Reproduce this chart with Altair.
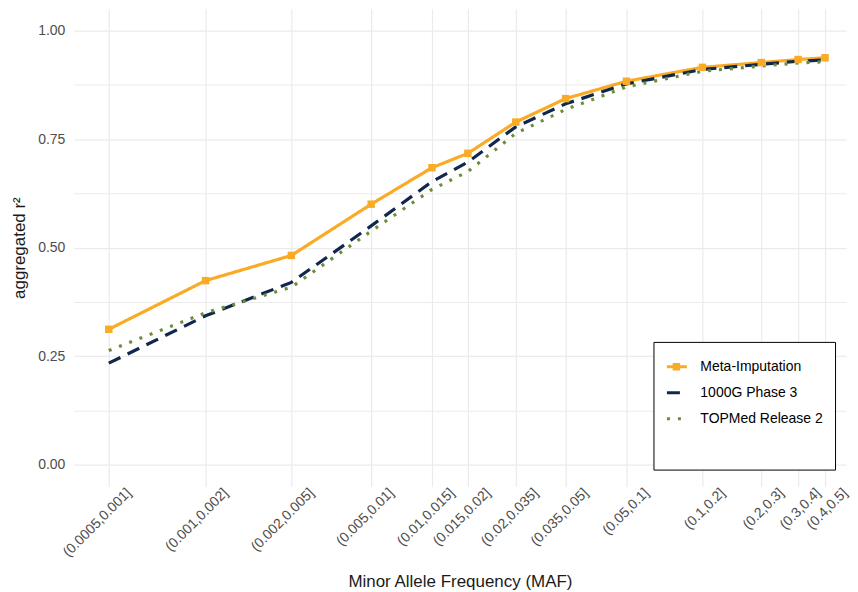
import altair as alt
import pandas as pd

# ---- data ----
maf_bins = ["(0.0005,0.001]", "(0.001,0.002]", "(0.002,0.005]", "(0.005,0.01]",
            "(0.01,0.015]", "(0.015,0.02]", "(0.02,0.035]", "(0.035,0.05]",
            "(0.05,0.1]", "(0.1,0.2]", "(0.2,0.3]", "(0.3,0.4]", "(0.4,0.5]"]
maf_upper = [0.001, 0.002, 0.005, 0.01, 0.015, 0.02, 0.035, 0.05, 0.1, 0.2, 0.3, 0.4, 0.5]
# mean MAF of variants in each bin (x position, log scale)
maf_mean = [0.000604, 0.001476, 0.00326, 0.00681, 0.01194, 0.01663, 0.02588,
            0.0410, 0.0719, 0.1449, 0.2495, 0.3507, 0.4498]

meta = [0.312, 0.424, 0.482, 0.600, 0.684, 0.717, 0.789, 0.843, 0.883, 0.915, 0.926, 0.933, 0.937]
g1000 = [0.234, 0.343, 0.420, 0.550, 0.652, 0.697, 0.778, 0.831, 0.877, 0.910, 0.922, 0.929, 0.932]
topmed = [0.263, 0.350, 0.409, 0.538, 0.634, 0.675, 0.763, 0.818, 0.870, 0.906, 0.918, 0.925, 0.928]

series_names = ["Meta-Imputation", "1000G Phase 3", "TOPMed Release 2"]
series_colors = ["#FAAB26", "#10284B", "#6B8E3D"]
series_dashes = [[1, 0], [13, 8], [3, 8]]

rows = []
for name, vals in zip(series_names, [meta, g1000, topmed]):
    for b, m, v in zip(maf_bins, maf_mean, vals):
        rows.append({"series": name, "bin": b, "maf": m, "r2": v})
df = pd.DataFrame(rows)

# x labels: map each tick value to its bin label
label_expr = "'" + maf_bins[-1] + "'"
for up, b in reversed(list(zip(maf_upper[:-1], maf_bins[:-1]))):
    label_expr = f"datum.value <= {up} ? '{b}' : ({label_expr})"

FONT = "Liberation Sans"

x_enc = alt.X(
    "maf:Q",
    scale=alt.Scale(type="log", domain=[4.375e-4, 0.5458], nice=False),
    axis=alt.Axis(values=maf_mean, labelExpr=label_expr, title="Minor Allele Frequency (MAF)",
                  labelAngle=-45, labelAlign="right", labelBaseline="middle",
                  labelOffset=20, labelPadding=4, ticks=False, tickSize=0, domain=False,
                  grid=True, titlePadding=14, labelOverlap=False, labelBound=False),
)
y_enc = alt.Y(
    "r2:Q",
    scale=alt.Scale(domain=[-0.05, 1.05], nice=False, zero=False),
    axis=alt.Axis(values=[i / 8 for i in range(9)],
                  labelExpr="(datum.value * 4) % 1 === 0 ? format(datum.value, '.2f') : ''",
                  title="aggregated r²", ticks=False, tickSize=0, domain=False,
                  labelPadding=9, titlePadding=9),
)

legend = alt.Legend(
    title=" ", titleOrient="bottom", titleFontSize=14, titlePadding=12,
    orient="none", legendX=581, legendY=334, direction="vertical",
    strokeColor="black", fillColor="white", padding=12,
    symbolType="stroke", symbolSize=400, symbolStrokeWidth=3,
    labelFontSize=14, labelColor="black", labelOffset=12, labelFont=FONT,
    clipHeight=26, rowPadding=0,
)

lines = alt.Chart(df).mark_line(strokeWidth=3.2).encode(
    x=x_enc,
    y=y_enc,
    color=alt.Color("series:N", scale=alt.Scale(domain=series_names, range=series_colors), legend=legend),
    strokeDash=alt.StrokeDash("series:N", scale=alt.Scale(domain=series_names, range=series_dashes), legend=legend),
    detail="series:N",
)

points = alt.Chart(df).transform_filter(
    alt.datum.series == series_names[0]
).mark_point(filled=True, opacity=1, size=56, color=series_colors[0]).encode(
    x=x_enc,
    y=y_enc,
    shape=alt.Shape("series:N", scale=alt.Scale(range=["square"]),
                    legend=alt.Legend(title=None, orient="none", legendX=599, legendY=350,
                                      labelExpr="''", padding=0, symbolSize=56,
                                      symbolFillColor=series_colors[0], symbolStrokeWidth=0,
                                      clipHeight=18)),
)

chart = alt.layer(lines, points).properties(
    width=774, height=479,
    padding={"left": 2, "top": 0, "right": 0, "bottom": 0},
).configure_view(strokeWidth=0).configure_axis(
    labelFont=FONT, titleFont=FONT, labelFontSize=14, labelColor="#4D4D4D",
    titleFontSize=17, titleColor="#1A1A1A", titleFontWeight="normal",
    gridColor="#EBEBEB", gridWidth=1.2,
).configure_legend(labelFont=FONT, titleFont=FONT)

chart.save("out.html", embed_options={"renderer": "svg", "actions": False})
